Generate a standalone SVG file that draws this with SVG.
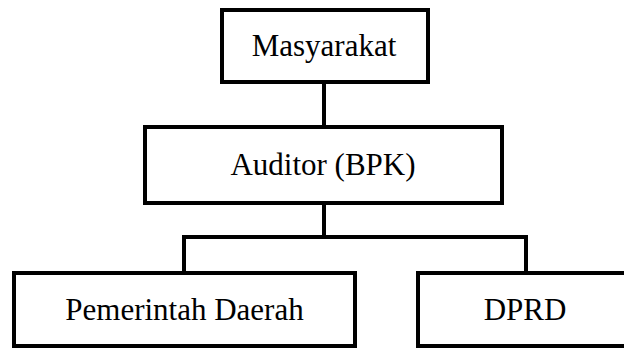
<svg xmlns="http://www.w3.org/2000/svg" width="624" height="348" viewBox="0 0 624 348">
<style>
.box{fill:#fff;stroke:#000;stroke-width:4}
.lbl{font-family:"Liberation Serif","Times New Roman",serif;font-size:31px;fill:#000;text-anchor:middle}
.conn{fill:none;stroke:#000;stroke-width:4}
</style>
<rect width="624" height="348" fill="#fff"/>
<g id="connectors">
<path class="conn" d="M324 82V127M324 203V237M184 237H526M184 235V273M526 235V273"/>
</g>
<g id="masyarakat">
<rect class="box" x="222" y="10" width="206" height="72"/>
<text class="lbl" x="324" y="56">Masyarakat</text>
</g>
<g id="auditor">
<rect class="box" x="145" y="127" width="357" height="76"/>
<text class="lbl" x="323" y="175">Auditor (BPK)</text>
</g>
<g id="pemda">
<rect class="box" x="14" y="273" width="341" height="73"/>
<text class="lbl" x="184.5" y="320">Pemerintah Daerah</text>
</g>
<g id="dprd">
<rect class="box" x="418" y="273" width="214" height="73"/>
<text class="lbl" x="525" y="320">DPRD</text>
</g>
</svg>
